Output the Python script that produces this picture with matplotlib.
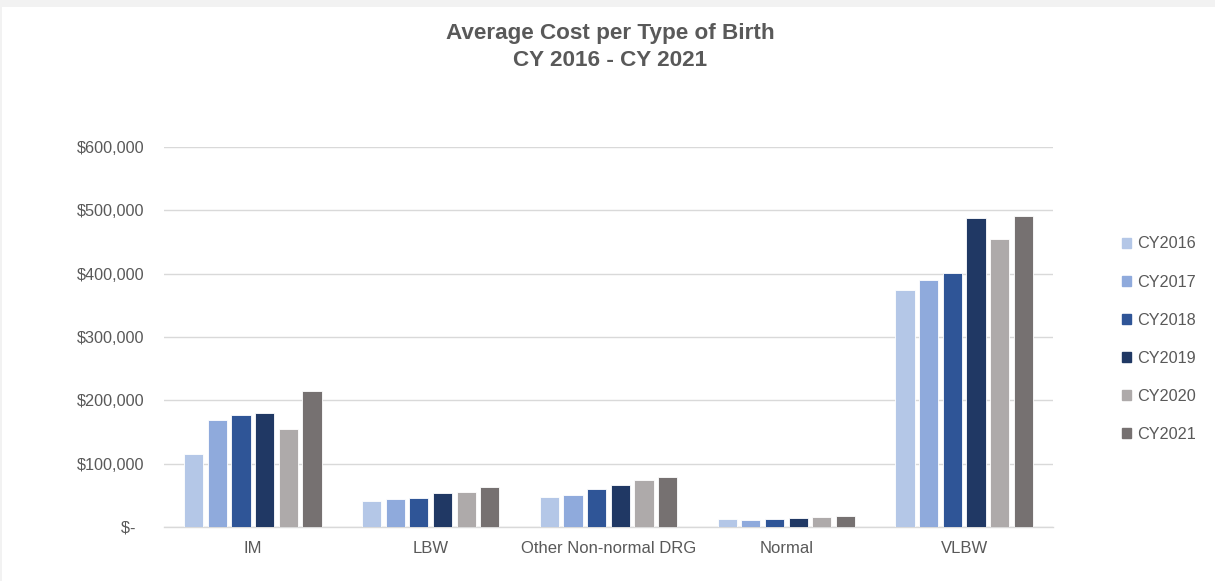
import matplotlib.pyplot as plt
import matplotlib.patches as mpatches
import numpy as np
from matplotlib.ticker import FuncFormatter

plt.rcParams['font.family'] = ['Liberation Sans', 'DejaVu Sans']

categories = ['IM', 'LBW', 'Other Non-normal DRG', 'Normal', 'VLBW']
years = ['CY2016', 'CY2017', 'CY2018', 'CY2019', 'CY2020', 'CY2021']

cy2016 = [115000, 41000, 47500, 12100, 374000]
cy2017 = [168500, 45000, 50500, 11600, 390000]
cy2018 = [176500, 45300, 60600, 12600, 401000]
cy2019 = [180500, 53200, 66000, 14200, 488000]
cy2020 = [155500, 55300, 74000, 15300, 454500]
cy2021 = [214500, 63200, 79000, 16900, 491000]
series = [cy2016, cy2017, cy2018, cy2019, cy2020, cy2021]

colors = ['#b4c7e7', '#8faadc', '#2f5597', '#203864', '#aeaaaa', '#767171']
text_color = '#595959'

fig = plt.figure(figsize=(12.15, 5.81), dpi=100)
fig.patch.set_facecolor('white')
# thin grey frame strips like the screenshot
fig.add_artist(mpatches.Rectangle((0, 1 - 7 / 581), 1, 7 / 581, transform=fig.transFigure,
                                  color='#f2f2f2', lw=0, zorder=0))
fig.add_artist(mpatches.Rectangle((0, 0), 2 / 1215, 1, transform=fig.transFigure,
                                  color='#f2f2f2', lw=0, zorder=0))

ax = fig.add_axes([164 / 1215, 1 - 527 / 581, (1053 - 164) / 1215, 380 / 581])

x = np.arange(len(categories))
step = 0.133
width = 0.108
for i, vals in enumerate(series):
    ax.bar(x + (i - 2.5) * step, vals, width, color=colors[i], edgecolor='white',
           linewidth=0.6, label=years[i], zorder=3)

ax.set_xlim(-0.5, len(categories) - 0.5)
ax.set_ylim(0, 600000)
ax.set_yticks(np.arange(0, 600001, 100000))

def money(v, pos):
    # accounting style: zero shown as a dash, set in from the right
    if v == 0:
        return '$-  '
    return '${:,.0f}'.format(v)

ax.yaxis.set_major_formatter(FuncFormatter(money))
ax.set_xticks(x)
ax.set_xticklabels(categories)
ax.tick_params(axis='y', length=0, labelsize=11.7, colors=text_color, pad=14)
ax.tick_params(axis='x', length=0, labelsize=12, colors=text_color, pad=10)
ax.yaxis.grid(True, color='#d9d9d9', linewidth=1, zorder=0)
for s in ['top', 'right', 'left']:
    ax.spines[s].set_visible(False)
ax.spines['bottom'].set_color('#d9d9d9')
ax.spines['bottom'].set_linewidth(1)

fig.text(0.502, 1 - 33 / 581, 'Average Cost per Type of Birth',
         ha='center', va='center', fontsize=16.2, fontweight='bold', color=text_color)
fig.text(0.502, 1 - 61 / 581, 'CY 2016 - CY 2021',
         ha='center', va='center', fontsize=16.2, fontweight='bold', color=text_color)

handles = [mpatches.Patch(color=c) for c in colors]
leg = fig.legend(handles, years, loc='upper left', bbox_to_anchor=(1115 / 1215, 1 - 230 / 581),
                 frameon=False, fontsize=11.7, handlelength=0.6, handleheight=0.6,
                 handletextpad=0.35, labelspacing=1.42, borderaxespad=0)
for t in leg.get_texts():
    t.set_color(text_color)

plt.savefig('out.png', dpi=100)
